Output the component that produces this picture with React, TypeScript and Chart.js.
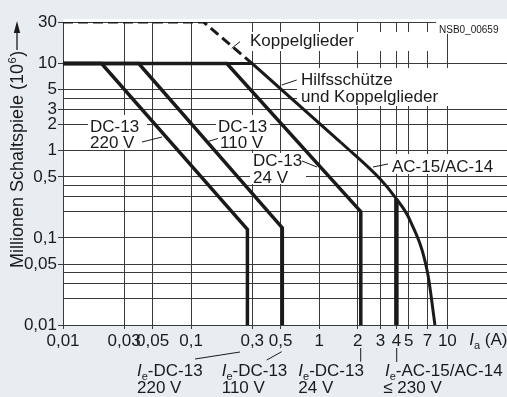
import React, { useEffect, useRef } from 'react';
import { Chart, registerables } from 'chart.js';

Chart.register(...registerables);

// ---- Axis ticks ----
const xTickValues = [0.01, 0.03, 0.05, 0.1, 0.3, 0.5, 1, 2, 3, 4, 5, 7, 10];
const xTickLabels = ['0,01', '0,03', '0,05', '0,1', '0,3', '0,5', '1', '2', '3', '4', '5', '7', '10'];
const yTickValues = [0.01, 0.02, 0.03, 0.04, 0.05, 0.1, 0.2, 0.3, 0.4, 0.5, 1, 2, 3, 4, 5, 10, 30];
const yTickLabels = ['0,01', '', '', '', '0,05', '0,1', '', '', '', '0,5', '1', '2', '3', '', '5', '10', '30'];

// ---- Series (x = Ia in A, y = million operating cycles) ----
const koppelX = [0.01, 0.125, 0.3];
const koppelY = [30, 30, 10];
const acStraightX = [0.01, 0.3, 1.47];
const acStraightY = [10, 10, 1.25];
const acCurveX = [1.47, 3.0, 3.93, 5.1, 7.0, 8.0];
const acCurveY = [1.25, 0.47, 0.29, 0.16, 0.04, 0.01];
const acIeX = [4, 4];
const acIeY = [0.28, 0.01];
const dc220X = [0.01, 0.02, 0.275, 0.275];
const dc220Y = [10, 10, 0.125, 0.01];
const dc110X = [0.01, 0.039, 0.515, 0.515];
const dc110Y = [10, 10, 0.13, 0.01];
const dc24X = [0.01, 0.19, 2.11, 2.11];
const dc24Y = [10, 10, 0.2, 0.01];

const FONT = '"Liberation Sans", Arial, Helvetica, sans-serif';
const INK = '#1a1a1a';
const GRID = '#3a3a3a';
const BG = '#e8edf1';

function zip(xs: number[], ys: number[]) {
  return xs.map((x, i) => ({ x, y: ys[i] }));
}

function drawSub(ctx: CanvasRenderingContext2D, x: number, y: number, main: string, sub: string, rest: string) {
  ctx.font = `italic 17px ${FONT}`;
  ctx.fillText(main, x, y);
  let w = ctx.measureText(main).width;
  ctx.font = `11px ${FONT}`;
  ctx.fillText(sub, x + w, y + 3.5);
  w += ctx.measureText(sub).width;
  ctx.font = `17px ${FONT}`;
  ctx.fillText(rest, x + w, y);
}

function line(ctx: CanvasRenderingContext2D, x1: number, y1: number, x2: number, y2: number) {
  ctx.beginPath();
  ctx.moveTo(x1, y1);
  ctx.lineTo(x2, y2);
  ctx.stroke();
}

const annotPlugin = {
  id: 'annot',
  beforeDraw(chart: any) {
    const { ctx, chartArea: a } = chart;
    ctx.save();
    ctx.fillStyle = BG;
    ctx.fillRect(0, 0, chart.width, chart.height);
    ctx.fillStyle = '#ffffff';
    ctx.fillRect(a.left, a.top - 3, a.right - a.left, a.bottom - a.top + 3);
    ctx.restore();
  },
  beforeDatasetsDraw(chart: any) {
    const { ctx } = chart;
    ctx.save();
    // white label boxes hiding the grid
    ctx.fillStyle = '#ffffff';
    const boxes = [
      [247, 32, 193, 19],
      [436, 20, 71, 14],
      [297, 68, 210, 38],
      [88, 115, 59, 34.5],
      [216, 115, 54, 34.5],
      [250, 153, 56, 31],
      [389, 154, 111, 20],
    ];
    boxes.forEach(([x, y, w, h]) => ctx.fillRect(x, y, w, h));
    ctx.fillStyle = INK;
    ctx.strokeStyle = INK;
    ctx.lineWidth = 1;
    ctx.textBaseline = 'alphabetic';
    ctx.textAlign = 'left';
    ctx.font = `17px ${FONT}`;
    ctx.fillText('Koppelglieder', 250, 45.5);
    ctx.fillText('Hilfsschütze', 301, 85);
    ctx.fillText('und Koppelglieder', 301, 102);
    ctx.fillText('DC-13', 90, 132);
    ctx.fillText('220 V', 90, 148);
    ctx.fillText('DC-13', 218, 132);
    ctx.fillText('110 V', 220, 148);
    ctx.fillText('DC-13', 253, 166);
    ctx.fillText('24 V', 253, 183);
    ctx.fillText('AC-15/AC-14', 392, 172);
    ctx.font = `10px ${FONT}`;
    ctx.fillText('NSB0_00659', 439, 33);
    // leaders
    line(ctx, 231.7, 48.3, 240, 41.7);
    line(ctx, 281.7, 85, 296.7, 80);
    line(ctx, 142, 142, 162, 137);
    line(ctx, 206, 142, 218, 138.5);
    line(ctx, 302, 161, 317, 167);
    line(ctx, 373, 167, 388, 164);
    ctx.restore();
  },
  afterDraw(chart: any) {
    const { ctx } = chart;
    ctx.save();
    ctx.fillStyle = INK;
    ctx.strokeStyle = INK;
    ctx.textBaseline = 'alphabetic';
    ctx.textAlign = 'left';
    // bottom labels
    drawSub(ctx, 137, 376, 'I', 'e', '-DC-13');
    ctx.fillText('220 V', 137, 393);
    drawSub(ctx, 221.7, 376, 'I', 'e', '-DC-13');
    ctx.fillText('110 V', 221.7, 393);
    drawSub(ctx, 298.3, 376, 'I', 'e', '-DC-13');
    ctx.fillText('24 V', 298.3, 393);
    drawSub(ctx, 385, 376, 'I', 'e', '-AC-15/AC-14');
    ctx.fillText('\u2264 230 V', 383.3, 393);
    drawSub(ctx, 469.3, 345, 'I', 'a', ' (A)');
    ctx.lineWidth = 1;
    line(ctx, 195, 359, 240, 352);
    line(ctx, 266.7, 360, 281.7, 351.7);
    line(ctx, 360.7, 348, 360.7, 361.7);
    line(ctx, 396.7, 348, 396.7, 362);
    // y axis title
    ctx.save();
    ctx.translate(23, 268);
    ctx.rotate(-Math.PI / 2);
    ctx.font = `18px ${FONT}`;
    const t1 = 'Millionen Schaltspiele (10';
    ctx.fillText(t1, 0, 0);
    let w = ctx.measureText(t1).width;
    ctx.font = `11px ${FONT}`;
    ctx.fillText('6', w + 0.5, -7);
    w += ctx.measureText('6').width + 1;
    ctx.font = `18px ${FONT}`;
    ctx.fillText(')', w, 0);
    ctx.restore();
    // arrow
    ctx.lineWidth = 1.3;
    line(ctx, 17, 50, 17, 31);
    ctx.beginPath();
    ctx.moveTo(17, 21);
    ctx.lineTo(13.8, 33);
    ctx.lineTo(20.2, 33);
    ctx.closePath();
    ctx.fill();
    ctx.restore();
  },
};

export default function App() {
  const ref = useRef<HTMLCanvasElement>(null);
  useEffect(() => {
    const canvas = ref.current!;
    const chart = new Chart(canvas, {
      type: 'line',
      data: {
        datasets: [
          { label: 'Koppelglieder', data: zip(koppelX, koppelY), borderDash: [10, 5], borderWidth: 3 },
          { label: 'Hilfsschütze und Koppelglieder', data: zip(acStraightX, acStraightY), borderWidth: 3 },
          { label: 'AC-15/AC-14', data: zip(acCurveX, acCurveY), borderWidth: 3, cubicInterpolationMode: 'monotone' },
          { label: 'Ie AC-15/AC-14', data: zip(acIeX, acIeY), borderWidth: 4.5 },
          { label: 'DC-13 220 V', data: zip(dc220X, dc220Y), borderWidth: 3.5 },
          { label: 'DC-13 110 V', data: zip(dc110X, dc110Y), borderWidth: 3.5 },
          { label: 'DC-13 24 V', data: zip(dc24X, dc24Y), borderWidth: 3.5 },
        ] as any,
      },
      options: {
        animation: false,
        responsive: false,
        maintainAspectRatio: false,
        devicePixelRatio: 1,
        layout: { padding: { top: 22, right: 0, left: 0, bottom: 0 } },
        plugins: { legend: { display: false }, tooltip: { enabled: false } },
        elements: {
          point: { radius: 0 },
          line: { borderColor: INK, fill: false, borderJoinStyle: 'miter' },
        },
        scales: {
          x: {
            type: 'logarithmic',
            min: 0.01,
            max: 29.2,
            position: 'bottom',
            afterBuildTicks: (s: any) => {
              s.ticks = xTickValues.map((v) => ({ value: v }));
            },
            afterFit: (s: any) => {
              s.height = 397 - 325;
            },
            ticks: {
              autoSkip: false,
              maxRotation: 0,
              minRotation: 0,
              padding: 2,
              color: INK,
              font: { family: FONT, size: 17 },
              callback: (v: any) => {
                const i = xTickValues.indexOf(Number(v));
                return i >= 0 ? xTickLabels[i] : '';
              },
            },
            grid: { color: GRID, lineWidth: 1, tickLength: 4, tickColor: GRID },
            border: { color: GRID, width: 1 },
          },
          y: {
            type: 'logarithmic',
            min: 0.01,
            max: 30,
            afterBuildTicks: (s: any) => {
              s.ticks = yTickValues.map((v) => ({ value: v }));
            },
            afterFit: (s: any) => {
              s.width = 63;
            },
            ticks: {
              autoSkip: false,
              padding: 1,
              color: INK,
              font: { family: FONT, size: 17 },
              callback: (v: any) => {
                const i = yTickValues.indexOf(Number(v));
                return i >= 0 ? yTickLabels[i] : '';
              },
            },
            grid: {
              color: GRID,
              lineWidth: 1,
              tickLength: 5,
              tickColor: (c: any) => {
                const i = yTickValues.indexOf(c.tick ? c.tick.value : NaN);
                return i >= 0 && yTickLabels[i] ? GRID : 'rgba(0,0,0,0)';
              },
            },
            border: { color: GRID, width: 1 },
          },
        },
      } as any,
      plugins: [annotPlugin],
    });
    return () => chart.destroy();
  }, []);
  return (
    <div style={{ position: 'fixed', left: 0, top: 0, width: 507, height: 397 }}>
      <canvas ref={ref} width={507} height={397} style={{ display: 'block', width: 507, height: 397 }} />
    </div>
  );
}
